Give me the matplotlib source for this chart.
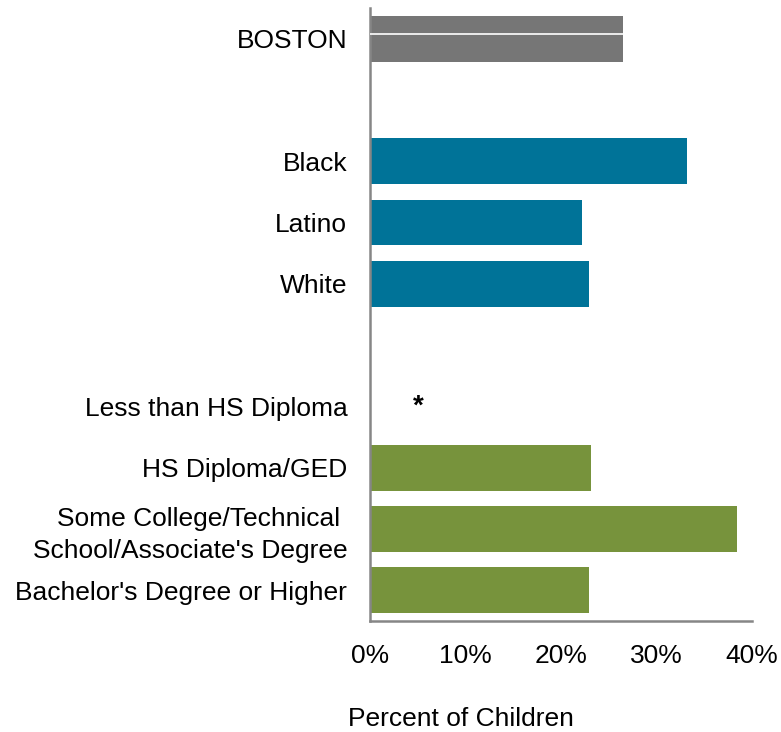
import matplotlib.pyplot as plt
import matplotlib.ticker as mticker

# ── DATA ─────────────────────────────────────────────────
LABELS = ["BOSTON", "Black", "Latino", "White",
          "Less than HS Diploma", "HS Diploma/GED",
          "Some College/Technical \nSchool/Associate's Degree",
          "Bachelor's Degree or Higher"]
VALUES = [0.265, 0.332, 0.222, 0.229, None, 0.231, 0.384, 0.229]
GROUPS = ["total", "race", "race", "race", "edu", "edu", "edu", "edu"]
POSITIONS = [0, 2, 3, 4, 6, 7, 8, 9]
SUPPRESSED_X = 0.05      # where the "*" sits
XTICKS = [0, 0.1, 0.2, 0.3, 0.4]

# ── STYLE ────────────────────────────────────────────────
COLORS = {"total": "#767676", "race": "#007398", "edu": "#77933C"}
AXIS_COLOR = "#868686"
FS = 19
plt.rcParams["font.family"] = ["Liberation Sans", "DejaVu Sans"]

fig = plt.figure(figsize=(7.81, 7.32), dpi=100)
ax = fig.add_axes([0.474, 0.152, 0.489, 0.837])

for pos, val, grp in zip(POSITIONS, VALUES, GROUPS):
    if val is None:
        ax.text(SUPPRESSED_X, pos, "*", ha="center", va="center",
                fontsize=20, fontweight="bold", color="black")
        continue
    ax.barh(pos, val, height=0.75, color=COLORS[grp], zorder=2)
    if grp == "total":
        # thin white line across the BOSTON bar
        ax.hlines(pos - 0.07, 0, val, color="white", linewidth=1.2, zorder=3)

ax.set_ylim(9.5, -0.5)
ax.set_xlim(0, 0.4)
ax.set_yticks(POSITIONS)
ax.set_yticklabels(LABELS, fontsize=FS, color="black")
for lbl in ax.get_yticklabels():
    lbl.set_linespacing(1.4)
ax.set_xticks(XTICKS)
ax.xaxis.set_major_formatter(mticker.FuncFormatter(lambda x, _: f"{x*100:.0f}%"))
ax.tick_params(axis="both", length=0, labelsize=FS, colors="black")
ax.tick_params(axis="y", pad=16.5)
ax.tick_params(axis="x", pad=17)

for s in ["top", "right"]:
    ax.spines[s].set_visible(False)
for s in ["left", "bottom"]:
    ax.spines[s].set_color(AXIS_COLOR)
    ax.spines[s].set_linewidth(1.8)

ax.set_xlabel("Percent of Children", fontsize=FS)
ax.xaxis.set_label_coords(0.238, -0.141)

fig.savefig("out.png", dpi=100, facecolor="white")
